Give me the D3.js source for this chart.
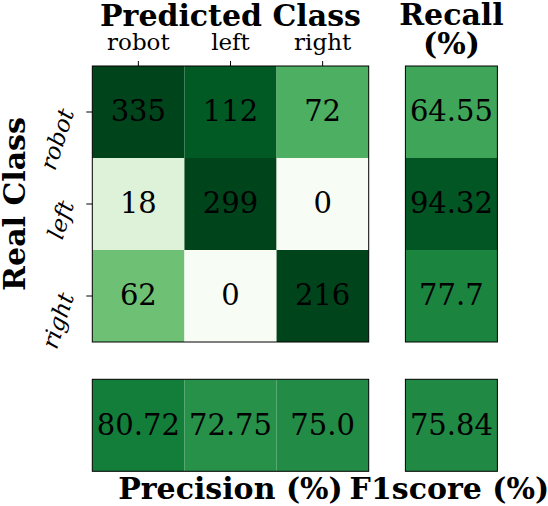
<!DOCTYPE html>
<html>
<head>
<meta charset="utf-8">
<script src="https://cdn.jsdelivr.net/npm/d3@7"></script>
<style>
  html, body { margin: 0; padding: 0; background: #fff; }
  svg { display: block; }
  text { font-family: "DejaVu Serif", serif; fill: #000; }
</style>
</head>
<body>
<svg id="chart" width="548" height="506"></svg>
<script>
// ---- data ----
const classes = ["robot", "left", "right"];
const confusion = [
  [335, 112, 72],
  [18, 299, 0],
  [62, 0, 216]
];
const recall = [64.55, 94.32, 77.7];
const precision = [80.72, 72.75, 75.0];
const f1score = [75.84];
const recallTitle = ["Recall", "(%)"];

// ---- helpers ----
const fmtPct = v => Number.isInteger(v) ? v.toFixed(1) : String(v);

const svg = d3.select("#chart");

const x = d3.scaleBand().domain(classes).range([92.3, 368.7]);
const y = d3.scaleBand().domain(classes).range([66, 342]);
const xr = d3.scaleBand().domain(["recall"]).range([405.4, 497.4]);
const yb = d3.scaleBand().domain(["precision"]).range([379.3, 471.3]);

const countColor = d3.scaleSequential(d3.interpolateGreens).domain([0, 120]).clamp(true);
const pctColor = d3.scaleSequential(d3.interpolateGreens).domain([0, 100]).clamp(true);

const numFont = 29;

function addCell(g, x0, y0, w, h, fill, label) {
  g.append("rect").attr("x", x0).attr("y", y0).attr("width", w).attr("height", h)
    .attr("fill", fill);
  g.append("text").attr("x", x0 + w / 2).attr("y", y0 + h / 2)
    .attr("dy", "0.32em").attr("text-anchor", "middle")
    .style("font-size", numFont + "px").text(label);
}

// confusion matrix
const gm = svg.append("g");
confusion.forEach((row, i) => {
  row.forEach((v, j) => {
    addCell(gm, x(classes[j]), y(classes[i]), x.bandwidth(), y.bandwidth(), countColor(v), String(v));
  });
});
gm.append("rect").attr("x", x.range()[0]).attr("y", y.range()[0])
  .attr("width", x.range()[1] - x.range()[0]).attr("height", y.range()[1] - y.range()[0])
  .attr("fill", "none").attr("stroke", "#000").attr("stroke-width", 1);

// recall column
const gr = svg.append("g");
recall.forEach((v, i) => {
  addCell(gr, xr("recall"), y(classes[i]), xr.bandwidth(), y.bandwidth(), pctColor(v), fmtPct(v));
});
gr.append("rect").attr("x", xr.range()[0]).attr("y", y.range()[0])
  .attr("width", xr.bandwidth()).attr("height", y.range()[1] - y.range()[0])
  .attr("fill", "none").attr("stroke", "#000");

// precision row
const gp = svg.append("g");
precision.forEach((v, j) => {
  addCell(gp, x(classes[j]), yb("precision"), x.bandwidth(), yb.bandwidth(), pctColor(v), fmtPct(v));
});
gp.append("rect").attr("x", x.range()[0]).attr("y", yb.range()[0])
  .attr("width", x.range()[1] - x.range()[0]).attr("height", yb.bandwidth())
  .attr("fill", "none").attr("stroke", "#000");

// f1 cell
const gf = svg.append("g");
f1score.forEach(v => {
  addCell(gf, xr("recall"), yb("precision"), xr.bandwidth(), yb.bandwidth(), pctColor(v), fmtPct(v));
});
gf.append("rect").attr("x", xr.range()[0]).attr("y", yb.range()[0])
  .attr("width", xr.bandwidth()).attr("height", yb.bandwidth())
  .attr("fill", "none").attr("stroke", "#000");

// top axis
const ax = svg.append("g").attr("transform", `translate(0,${y.range()[0]})`)
  .call(d3.axisTop(x).tickSize(5).tickPadding(11));
ax.select(".domain").remove();
ax.selectAll(".tick line").attr("stroke", "#000");
ax.selectAll(".tick text").attr("fill", "#000")
  .style("font-family", '"DejaVu Serif", serif').style("font-size", "23px");

// left axis
const ay = svg.append("g").attr("transform", `translate(${x.range()[0]},0)`)
  .call(d3.axisLeft(y).tickSize(6));
ay.select(".domain").remove();
ay.selectAll(".tick line").attr("stroke", "#000");
ay.selectAll(".tick text").attr("fill", "#000")
  .attr("x", null).attr("dy", null)
  .attr("text-anchor", "end")
  .attr("transform", "translate(-18,0) rotate(-72)")
  .style("font-family", '"DejaVu Serif", serif').style("font-style", "italic")
  .style("font-size", "23px");

// titles
const titleStyle = (sel, size) => sel.style("font-weight", "bold").style("font-size", (size || 30) + "px")
  .attr("text-anchor", "middle");
const xMid = (x.range()[0] + x.range()[1]) / 2;
const rMid = xr("recall") + xr.bandwidth() / 2;
svg.append("text").attr("x", xMid).attr("y", 26)
  .call(titleStyle).text("Predicted Class");
svg.append("text").attr("x", rMid).attr("y", 25)
  .call(titleStyle).text(recallTitle[0]);
svg.append("text").attr("x", rMid).attr("y", 54)
  .call(titleStyle).text(recallTitle[1]);
svg.append("text").attr("x", xMid).attr("y", 499)
  .call(titleStyle).text("Precision (%)");
svg.append("text").attr("x", rMid - 2).attr("y", 499)
  .call(titleStyle, 30).text("F1score (%)");
svg.append("text")
  .attr("transform", `translate(25,${(y.range()[0] + y.range()[1]) / 2}) rotate(-90)`)
  .call(titleStyle).text("Real Class");
</script>
</body>
</html>
